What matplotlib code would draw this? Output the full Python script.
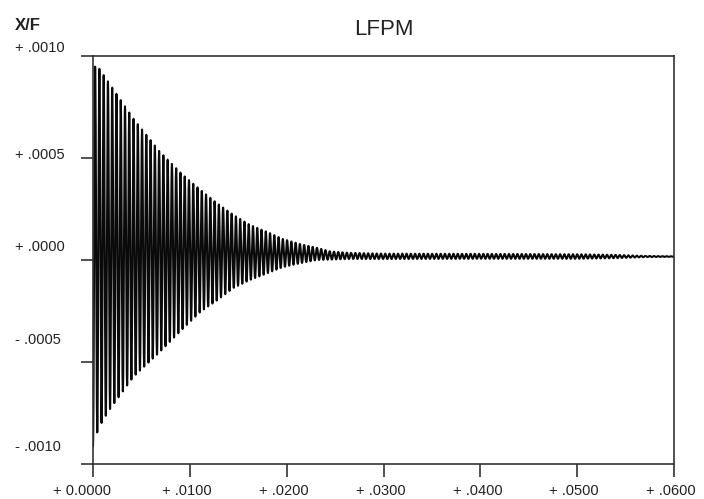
import numpy as np
import matplotlib
matplotlib.use("Agg")
import matplotlib.pyplot as plt

# ---- data ----
title = "LFPM"
y_label = "X/F"
x_ticks = [0.0, 0.01, 0.02, 0.03, 0.04, 0.05, 0.06]
x_tick_labels = ["+ 0.0000", "+ .0100", "+ .0200", "+ .0300", "+ .0400", "+ .0500", "+ .0600"]
y_ticks = [0.001, 0.0005, 0.0, -0.0005, -0.001]
y_tick_labels = ["+ .0010", "+ .0005", "+ .0000", "- .0005", "- .0010"]

# oscillation: carrier frequency (Hz) and envelope read at sample times
carrier_hz = 2270.0
env_t = [0.0, 0.0006, 0.0016, 0.0042, 0.0069, 0.0092, 0.0111, 0.0128, 0.0145,
         0.0162, 0.0180, 0.0196, 0.0214, 0.0231, 0.0245, 0.0265, 0.030, 0.040,
         0.050, 0.054, 0.057, 0.060]
env_amp = [0.00093, 0.00088, 0.000805, 0.00063, 0.00049, 0.00038, 0.000298,
           0.000238, 0.000179, 0.000135, 0.000101, 0.000069, 0.000047, 0.00003,
           0.00002, 0.000015, 0.000013, 0.000012, 0.000011, 0.000008, 0.000003,
           0.000001]
env_center = [0.00002, 0.00006, 0.000065, 0.00006, 0.00004, 0.00004, 0.000045,
              0.00004, 0.000042, 0.000037, 0.000036, 0.000034, 0.000031, 0.00003,
              0.000022, 0.00002, 0.000018, 0.000018, 0.000017, 0.000017,
              0.000017, 0.000017]

# ---- build signal ----
t = np.linspace(0.0, 0.06, 40001)
amp = np.interp(t, env_t, env_amp)
ctr = np.interp(t, env_t, env_center)
sig = ctr - amp * np.cos(2 * np.pi * carrier_hz * t)

FONT = ["Liberation Sans", "DejaVu Sans"]
plt.rcParams["font.family"] = FONT
SPINE = "#333333"

fig = plt.figure(figsize=(7.04, 4.99), dpi=100)
W, H = 704, 499
ax = fig.add_axes([93 / W, (H - 464.3) / H, (674 - 93) / W, (464.3 - 55.7) / H])

ax.plot(t, sig, color="#0a0a0a", lw=1.5)
ax.set_xlim(0, 0.06)
ax.set_ylim(-0.001, 0.001)

for s in ax.spines.values():
    s.set_color(SPINE)
    s.set_linewidth(1.2)

ax.set_xticks(x_ticks)
ax.set_yticks(y_ticks)
ax.tick_params(axis="both", direction="out", length=9, width=1.2, color=SPINE,
               labelbottom=False, labelleft=False)

# x tick labels
for i, (v, lab) in enumerate(zip(x_ticks, x_tick_labels)):
    dx = -11 if i == 0 else -3
    ax.annotate(lab, xy=(v, 0), xycoords=("data", "axes fraction"),
                xytext=(dx, -27), textcoords="offset pixels",
                ha="center", va="center", fontsize=10.5, color="#222222")

# y tick labels (left aligned at x=15px)
y_offsets = [8, 3, 13, 22, 17]
for v, lab, dy in zip(y_ticks, y_tick_labels, y_offsets):
    ax.annotate(lab, xy=(0, v), xycoords=("axes fraction", "data"),
                xytext=(-78, dy), textcoords="offset pixels",
                ha="left", va="center", fontsize=10.5, color="#222222")

fig.text(15 / W, (H - 25) / H, y_label, ha="left", va="center",
         fontsize=12, fontweight="bold", color="#222222")
ax.annotate(title, xy=(0.5, 1), xycoords="axes fraction",
            xytext=(0, 26), textcoords="offset pixels",
            ha="center", va="center", fontsize=16, color="#222222")

fig.savefig("out.png", dpi=100)
